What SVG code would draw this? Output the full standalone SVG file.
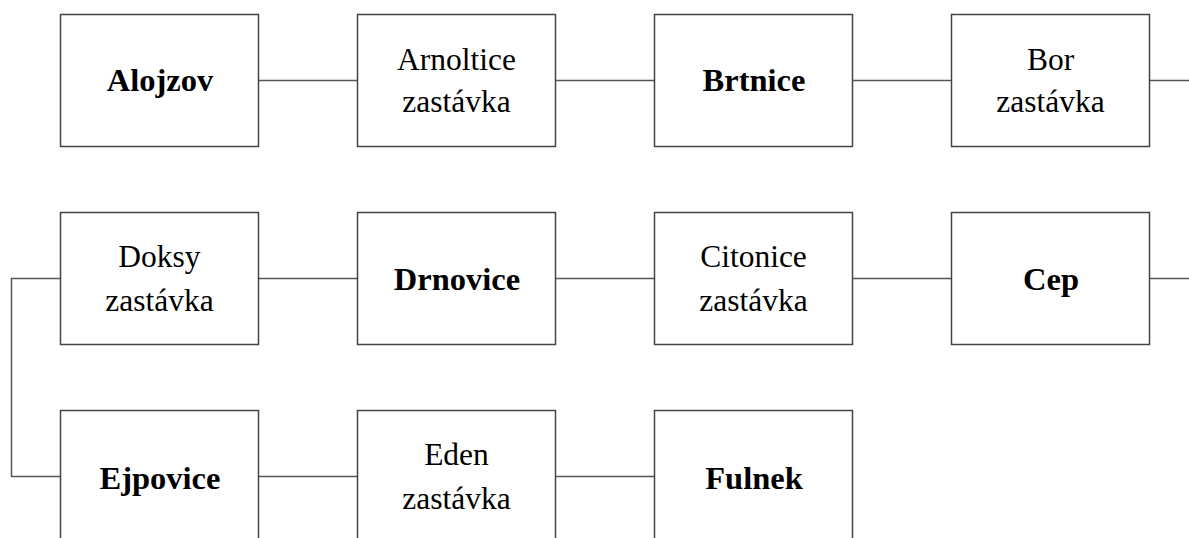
<svg xmlns="http://www.w3.org/2000/svg" width="1189" height="538" viewBox="0 0 1189 538">
<style>
.box{fill:#ffffff;stroke:#444444;stroke-width:1.5}
.conn{fill:none;stroke:#555555;stroke-width:1.5}
text{font-family:"Liberation Serif","Times New Roman",serif;font-size:31.5px;fill:#000000;text-anchor:middle}
.b{font-weight:bold;font-size:32.5px}
</style>
<rect width="1189" height="538" fill="#ffffff"/>
<g id="connectors">
<path class="conn" d="M258.5 80.5H357.5"/>
<path class="conn" d="M555.5 80.5H654.5"/>
<path class="conn" d="M852.5 80.5H951.5"/>
<path class="conn" d="M1149.5 80.5H1200V278.5H1149.5"/>
<path class="conn" d="M951.5 278.5H852.5"/>
<path class="conn" d="M654.5 278.5H555.5"/>
<path class="conn" d="M357.5 278.5H258.5"/>
<path class="conn" d="M60.5 278.5H11.5V476.5H60.5"/>
<path class="conn" d="M258.5 476.5H357.5"/>
<path class="conn" d="M555.5 476.5H654.5"/>
</g>
<g id="alojzov"><rect class="box" x="60.5" y="14.5" width="198" height="132"/><text class="b" x="160" y="91">Alojzov</text></g>
<g id="arnoltice"><rect class="box" x="357.5" y="14.5" width="198" height="132"/><text x="456.5" y="70">Arnoltice</text><text x="456.5" y="112">zastávka</text></g>
<g id="brtnice"><rect class="box" x="654.5" y="14.5" width="198" height="132"/><text class="b" x="754" y="91">Brtnice</text></g>
<g id="bor"><rect class="box" x="951.5" y="14.5" width="198" height="132"/><text x="1050.5" y="70">Bor</text><text x="1050.5" y="112">zastávka</text></g>
<g id="cep"><rect class="box" x="951.5" y="212.5" width="198" height="132"/><text class="b" x="1051" y="290">Cep</text></g>
<g id="citonice"><rect class="box" x="654.5" y="212.5" width="198" height="132"/><text x="753.5" y="267">Citonice</text><text x="753.5" y="310.5">zastávka</text></g>
<g id="drnovice"><rect class="box" x="357.5" y="212.5" width="198" height="132"/><text class="b" x="457" y="290">Drnovice</text></g>
<g id="doksy"><rect class="box" x="60.5" y="212.5" width="198" height="132"/><text x="159.5" y="267">Doksy</text><text x="159.5" y="310.5">zastávka</text></g>
<g id="ejpovice"><rect class="box" x="60.5" y="410.5" width="198" height="132"/><text class="b" x="160" y="488.5">Ejpovice</text></g>
<g id="eden"><rect class="box" x="357.5" y="410.5" width="198" height="132"/><text x="456.5" y="465">Eden</text><text x="456.5" y="508.5">zastávka</text></g>
<g id="fulnek"><rect class="box" x="654.5" y="410.5" width="198" height="132"/><text class="b" x="754" y="488.5">Fulnek</text></g>
</svg>
